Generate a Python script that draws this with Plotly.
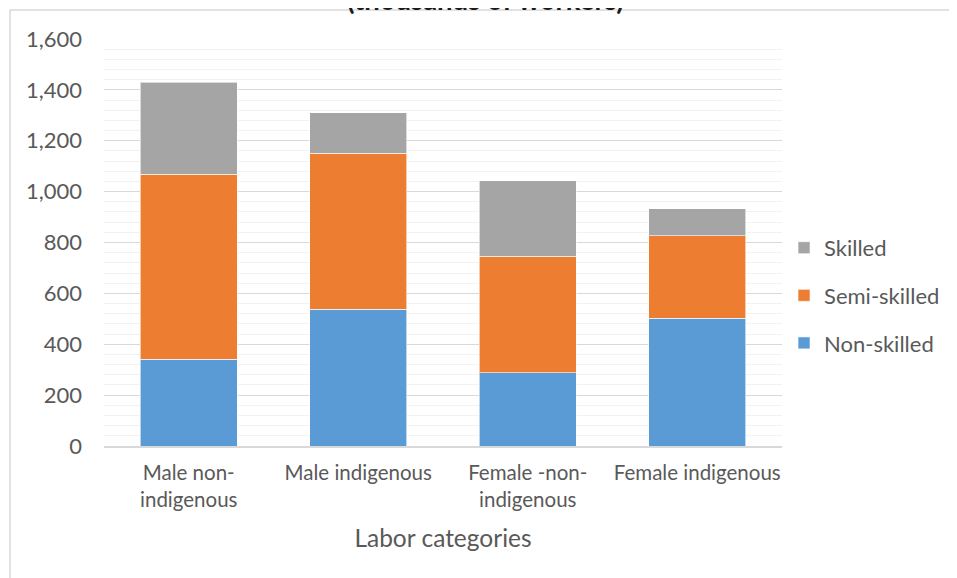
import plotly.graph_objects as go

categories = ['Male non-<br>indigenous', 'Male indigenous',
              'Female -non-<br>indigenous', 'Female indigenous']
non_skilled = [342, 538, 287, 502]
semi_skilled = [726, 612, 459, 325]
skilled = [362, 160, 297, 106]

series = [
    ('Non-skilled', non_skilled, '#5B9BD5', 3),
    ('Semi-skilled', semi_skilled, '#ED7D31', 2),
    ('Skilled', skilled, '#A5A5A5', 1),
]

text_color = '#595959'
font_family = 'Lato, Open Sans, sans-serif'

fig = go.Figure()
for name, vals, color, rank in series:
    fig.add_trace(go.Bar(
        x=categories,
        y=vals,
        name=name,
        legendgroup=name,
        legendrank=rank,
        marker=dict(color=color, line=dict(color='rgba(255,255,255,0.6)', width=1)),
    ))

# the page body adds 8px around the figure, so margins are trimmed by that much
fig.update_layout(
    barmode='stack',
    bargap=0.43,
    width=957,
    height=578,
    margin=dict(l=96, r=183, t=31, b=140),
    plot_bgcolor='white',
    paper_bgcolor='white',
    font=dict(family=font_family, size=20.5, color=text_color),
    showlegend=True,
    legend=dict(
        x=1.003, xanchor='left',
        y=0.37, yanchor='middle',
        tracegroupgap=16,
        font=dict(size=22, color=text_color),
        itemwidth=30,
    ),
    xaxis=dict(
        showgrid=False,
        showline=True,
        linecolor='#D9D9D9',
        linewidth=1.5,
        ticks='',
        ticklabelstandoff=8,
        title=dict(text='Labor categories', font=dict(size=24.5, color=text_color), standoff=20),
    ),
    yaxis=dict(
        range=[0, 1600],
        dtick=200,
        tickformat=',',
        tickfont=dict(size=22),
        showgrid=True,
        gridcolor='#D9D9D9',
        gridwidth=1,
        zeroline=False,
        ticks='',
        ticklabelstandoff=21,
        minor=dict(dtick=40, showgrid=True, gridcolor='#F2F2F2', gridwidth=1),
    ),
    shapes=[dict(
        type='rect', xref='paper', yref='paper',
        x0=-0.1386, x1=1.30, y0=-0.37, y1=1.0713,
        line=dict(color='#D9D9D9', width=1.5),
        fillcolor='rgba(0,0,0,0)',
        layer='below',
    )],
    annotations=[dict(
        text='<b>(thousands of workers)</b>',
        xref='paper', yref='paper',
        x=0.562, y=1.098, xanchor='center', yanchor='middle',
        showarrow=False,
        font=dict(size=27.5, color='#1a1a1a'),
    )],
)

fig.write_html('out.html')
